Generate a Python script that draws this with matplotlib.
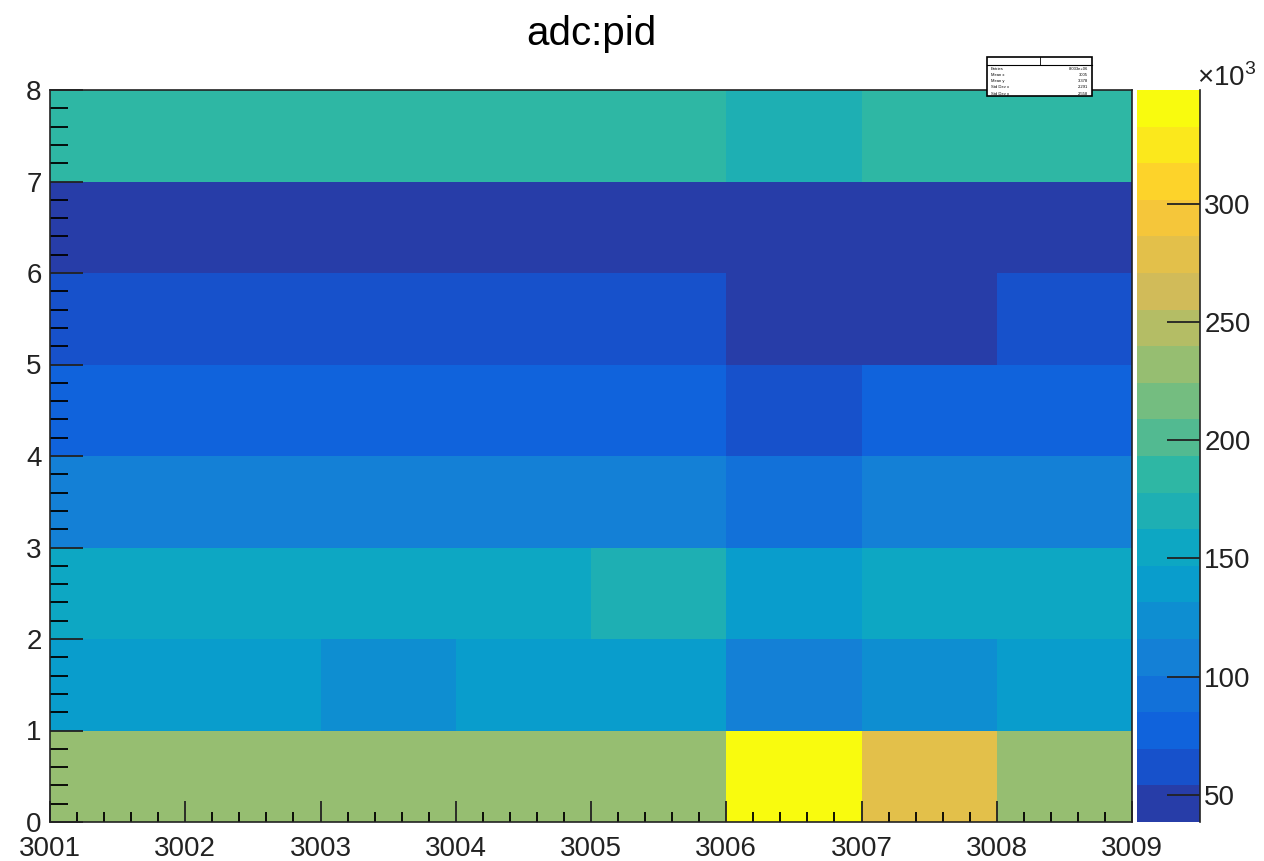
import numpy as np
import matplotlib
matplotlib.use("Agg")
import matplotlib.pyplot as plt
from matplotlib.colors import LinearSegmentedColormap, ListedColormap, BoundaryNorm
from matplotlib.ticker import MultipleLocator, FuncFormatter
from matplotlib.patches import Rectangle

plt.rcParams['font.family'] = ['Liberation Sans', 'DejaVu Sans']
plt.rcParams['mathtext.fontset'] = 'custom'
plt.rcParams['mathtext.rm'] = 'Liberation Sans'

# x bins (pid) and y bins (adc)
x_edges = [3001, 3002, 3003, 3004, 3005, 3006, 3007, 3008, 3009]
y_edges = [0, 1, 2, 3, 4, 5, 6, 7, 8]

# counts per cell, one list per y bin (in units of 10^3), columns follow x bins
row_0 = [232, 232, 232, 232, 232, 348, 280, 232]
row_1 = [139, 139, 124, 139, 139, 108, 124, 139]
row_2 = [155, 155, 155, 155, 171, 139, 155, 155]
row_3 = [108, 108, 108, 108, 108, 93, 108, 108]
row_4 = [77, 77, 77, 77, 77, 62, 77, 77]
row_5 = [62, 62, 62, 62, 62, 45, 45, 62]
row_6 = [44, 43, 42, 42, 41, 38.6, 43, 44]
row_7 = [186, 186, 186, 186, 186, 170, 186, 186]

cbar_ticks = [50, 100, 150, 200, 250, 300]

counts = np.array([row_0, row_1, row_2, row_3, row_4, row_5, row_6, row_7]) * 1000.0

# ROOT kBird palette
stops = [0.0000, 0.1250, 0.2500, 0.3750, 0.5000, 0.6250, 0.7500, 0.8750, 1.0000]
red = [0.2082, 0.0592, 0.0780, 0.0232, 0.1802, 0.5301, 0.8186, 0.9956, 0.9764]
green = [0.1664, 0.3599, 0.5041, 0.6419, 0.7178, 0.7492, 0.7328, 0.7862, 0.9832]
blue = [0.5293, 0.8684, 0.8385, 0.7914, 0.6425, 0.4662, 0.3499, 0.1968, 0.0539]
bird = LinearSegmentedColormap.from_list(
    'bird', list(zip(stops, zip(red, green, blue))), N=255)

# 20 contour levels, colour of each band picked the way ROOT does it
ncont = 20
zmin, zmax = counts.min(), counts.max()
levels = np.linspace(zmin, zmax, ncont + 1)
band_cols = [bird(int((i + 0.99) * 255 / ncont) / 254.0) for i in range(ncont)]
cmap = ListedColormap(band_cols)
norm = BoundaryNorm(levels, ncont)

fig = plt.figure(figsize=(12.64, 8.61), dpi=100)
ax = fig.add_axes([50 / 1264, 39 / 861, 1082 / 1264, 732 / 861])
cax = fig.add_axes([1137 / 1264, 39 / 861, 63 / 1264, 732 / 861])

mesh = ax.pcolormesh(x_edges, y_edges, counts, cmap=cmap, norm=norm)
ax.set_xlim(x_edges[0], x_edges[-1])
ax.set_ylim(y_edges[0], y_edges[-1])

ax.xaxis.set_major_locator(MultipleLocator(1))
ax.xaxis.set_minor_locator(MultipleLocator(0.2))
ax.yaxis.set_major_locator(MultipleLocator(1))
ax.yaxis.set_minor_locator(MultipleLocator(0.2))
ax.xaxis.set_major_formatter(FuncFormatter(lambda v, p: '%d' % v))
ax.tick_params(axis='x', which='major', direction='in', length=15, width=1.3,
               labelsize=20, pad=10, top=False, colors='#222222')
ax.tick_params(axis='x', which='minor', direction='in', length=7.5, width=1.3, top=False)
ax.tick_params(axis='y', which='major', direction='in', length=24, width=1.3,
               labelsize=20, pad=6, right=False, colors='#222222')
ax.tick_params(axis='y', which='minor', direction='in', length=13, width=1.3, right=False)
for s in ax.spines.values():
    s.set_linewidth(1.2)
    s.set_color('#222222')

# palette axis
cb = fig.colorbar(mesh, cax=cax, spacing='proportional', ticks=np.array(cbar_ticks) * 1000)
cb.outline.set_visible(False)
cax.spines['right'].set_visible(True)
cax.spines['right'].set_linewidth(1.2)
cax.spines['right'].set_color('#222222')
cb.minorticks_off()
cax.yaxis.set_major_formatter(FuncFormatter(lambda v, p: '%d' % round(v / 1000)))
cax.tick_params(axis='y', direction='in', length=24, width=1.3, labelsize=20, pad=3,
                colors='#222222')
fig.text(1197 / 1264, 1 - 86 / 861, r'$\times10^{3}$', fontsize=20, color='#222222')

fig.text(591 / 1264, 1 - 45 / 861, 'adc:pid', fontsize=29, ha='center', va='baseline')

# stats box
xc = (np.array(x_edges[:-1]) + np.array(x_edges[1:])) / 2
yc = (np.array(y_edges[:-1]) + np.array(y_edges[1:])) / 2
w = counts.sum()
mx = (counts.sum(axis=0) * xc).sum() / w
my = (counts.sum(axis=1) * yc).sum() / w
sx = np.sqrt((counts.sum(axis=0) * (xc - mx) ** 2).sum() / w)
sy = np.sqrt((counts.sum(axis=1) * (yc - my) ** 2).sum() / w)
stats = [('Entries', '%.4g' % w), ('Mean x', '%.4g' % mx), ('Mean y', '%.4g' % my),
         ('Std Dev x', '%.4g' % sx), ('Std Dev y', '%.4g' % sy)]
bx0, bx1, by0, by1 = 987 / 1264, 1092 / 1264, 1 - 96 / 861, 1 - 57 / 861
fig.patches.append(Rectangle((bx0, by0), bx1 - bx0, by1 - by0, transform=fig.transFigure,
                             facecolor='white', edgecolor='black', linewidth=1.2, zorder=5))
hy = 1 - 65 / 861
fig.lines.append(plt.Line2D([bx0, bx1], [hy, hy], transform=fig.transFigure,
                            color='black', linewidth=0.8, zorder=6))
fig.lines.append(plt.Line2D([(bx0 + bx1) / 2] * 2, [hy, by1], transform=fig.transFigure,
                            color='black', linewidth=0.6, zorder=6))
for i, (k, v) in enumerate(stats):
    ty = hy - (i + 0.6) * (hy - by0) / len(stats)
    fig.text(bx0 + 0.003, ty, k, fontsize=3, va='center', zorder=7)
    fig.text(bx1 - 0.003, ty, v, fontsize=3, va='center', ha='right', zorder=7)

fig.savefig('out.png', dpi=100)
